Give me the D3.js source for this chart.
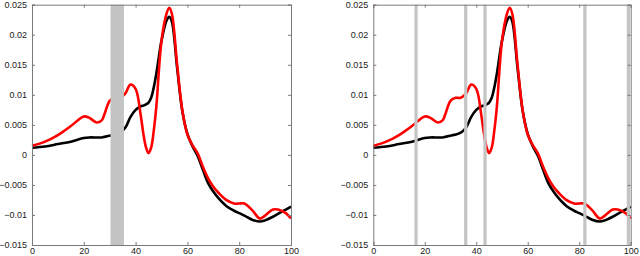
<!DOCTYPE html>
<html>
<head>
<meta charset="utf-8">
<script src="https://cdn.jsdelivr.net/npm/d3@7"></script>
<style>
	body { margin: 0; background: #fff; }
	svg { display: block; }
	text { font-family: "Liberation Sans", Arial, sans-serif; font-size: 9px; fill: #222; }
</style>
</head>
<body>
<svg id="chart" width="640" height="256"></svg>
<script>
'use strict';

// sample positions (0..100) and the two curves
var xs    = [0, 5, 10, 15, 20, 22, 25, 27, 28, 30, 32, 34, 36, 38, 40, 42, 43, 44, 45, 46, 47, 48, 50, 52, 53, 54, 56, 58, 60, 62, 64, 66, 68, 70, 72, 75, 78, 80, 82, 85, 88, 90, 93, 95, 98, 100];
var black = [0.0012, 0.0014, 0.0018, 0.0022, 0.0028, 0.0029, 0.0029, 0.0029, 0.0030, 0.0032, 0.0034, 0.0037, 0.0045, 0.0063, 0.0075, 0.0081, 0.0082, 0.0084, 0.0087, 0.0095, 0.0112, 0.0135, 0.0190, 0.0224, 0.0230, 0.0222, 0.0146, 0.0074, 0.0035, 0.0014, -0.0002, -0.0025, -0.0047, -0.0061, -0.0072, -0.0085, -0.0093, -0.0097, -0.0101, -0.0108, -0.0111, -0.0109, -0.0103, -0.0098, -0.0091, -0.0086];
var red   = [0.0015, 0.0022, 0.0033, 0.0048, 0.0064, 0.0062, 0.0054, 0.0058, 0.0068, 0.0090, 0.0095, 0.0095, 0.0102, 0.0117, 0.0110, 0.0065, 0.0035, 0.0013, 0.0003, 0.0012, 0.0040, 0.0080, 0.0190, 0.0236, 0.0245, 0.0235, 0.0152, 0.0075, 0.0034, 0.0016, 0.0002, -0.0020, -0.0039, -0.0053, -0.0063, -0.0075, -0.0081, -0.0081, -0.0081, -0.0092, -0.0106, -0.0101, -0.0091, -0.0091, -0.0097, -0.0106];

var xTicks = [0, 20, 40, 60, 80, 100];
var yTicks = [-0.015, -0.01, -0.005, 0, 0.005, 0.01, 0.015, 0.02, 0.025];

// shaded regions: left panel has one wide band, right panel has thin markers
var leftBands  = [[30.3, 35.5]];
var rightMarks = [16.6, 35.9, 43.4, 82.2, 99.1];

var svg = d3.select('#chart');
var top_ = 4.7, bottom = 245;

var y = d3.scaleLinear().domain([-0.015, 0.025]).range([bottom, top_]);

function fmt(v) {
	if (v === 0) return '0';
	var s = String(+v.toFixed(3));
	return s.replace('-', '\u2212');
}

function panel(x0, x1, bands, marks) {
	var x = d3.scaleLinear().domain([0, 100]).range([x0, x1]);
	var g = svg.append('g');

	var line = d3.line()
		.x(function (d) { return x(d[0]); })
		.y(function (d) { return y(d[1]); })
		.curve(d3.curveCatmullRom.alpha(0.5));

	g.append('path')
		.datum(d3.zip(xs, black))
		.attr('d', line)
		.attr('fill', 'none')
		.attr('stroke', '#000')
		.attr('stroke-width', 2.6);

	g.append('path')
		.datum(d3.zip(xs, red))
		.attr('d', line)
		.attr('fill', 'none')
		.attr('stroke', '#ff0000')
		.attr('stroke-width', 2.6);

	g.selectAll('rect.band')
		.data(bands)
		.enter().append('rect')
		.attr('class', 'band')
		.attr('x', function (d) { return x(d[0]); })
		.attr('width', function (d) { return x(d[1]) - x(d[0]); })
		.attr('y', top_)
		.attr('height', bottom - top_)
		.attr('fill', '#c4c4c4');

	g.selectAll('rect.mark')
		.data(marks)
		.enter().append('rect')
		.attr('class', 'mark')
		.attr('x', function (d) { return x(d) - 1.6; })
		.attr('width', 3.2)
		.attr('y', top_)
		.attr('height', bottom - top_)
		.attr('fill', '#c4c4c4');

	// box with inward ticks on all sides
	g.append('g')
		.attr('transform', 'translate(0,' + bottom + ')')
		.call(d3.axisBottom(x).tickValues(xTicks).tickSize(-3).tickPadding(3).tickFormat(d3.format('d')));
	g.append('g')
		.attr('transform', 'translate(0,' + top_ + ')')
		.call(d3.axisTop(x).tickValues(xTicks).tickSize(-3).tickFormat(''));
	g.append('g')
		.attr('transform', 'translate(' + x0 + ',0)')
		.call(d3.axisLeft(y).tickValues(yTicks).tickSize(-3).tickPadding(5).tickFormat(fmt));
	g.append('g')
		.attr('transform', 'translate(' + x1 + ',0)')
		.call(d3.axisRight(y).tickValues(yTicks).tickSize(-3).tickFormat(''));

	g.selectAll('.domain').attr('stroke', '#7a7a7a').attr('stroke-width', 1);
	g.selectAll('.tick line').attr('stroke', '#7a7a7a');
	g.selectAll('.tick text').attr('fill', '#222').style('font-size', '9px')
		.style('font-family', '"Liberation Sans", Arial, sans-serif');
}

panel(32, 291, leftBands, []);
panel(373.3, 630.7, [], rightMarks);
</script>
</body>
</html>
